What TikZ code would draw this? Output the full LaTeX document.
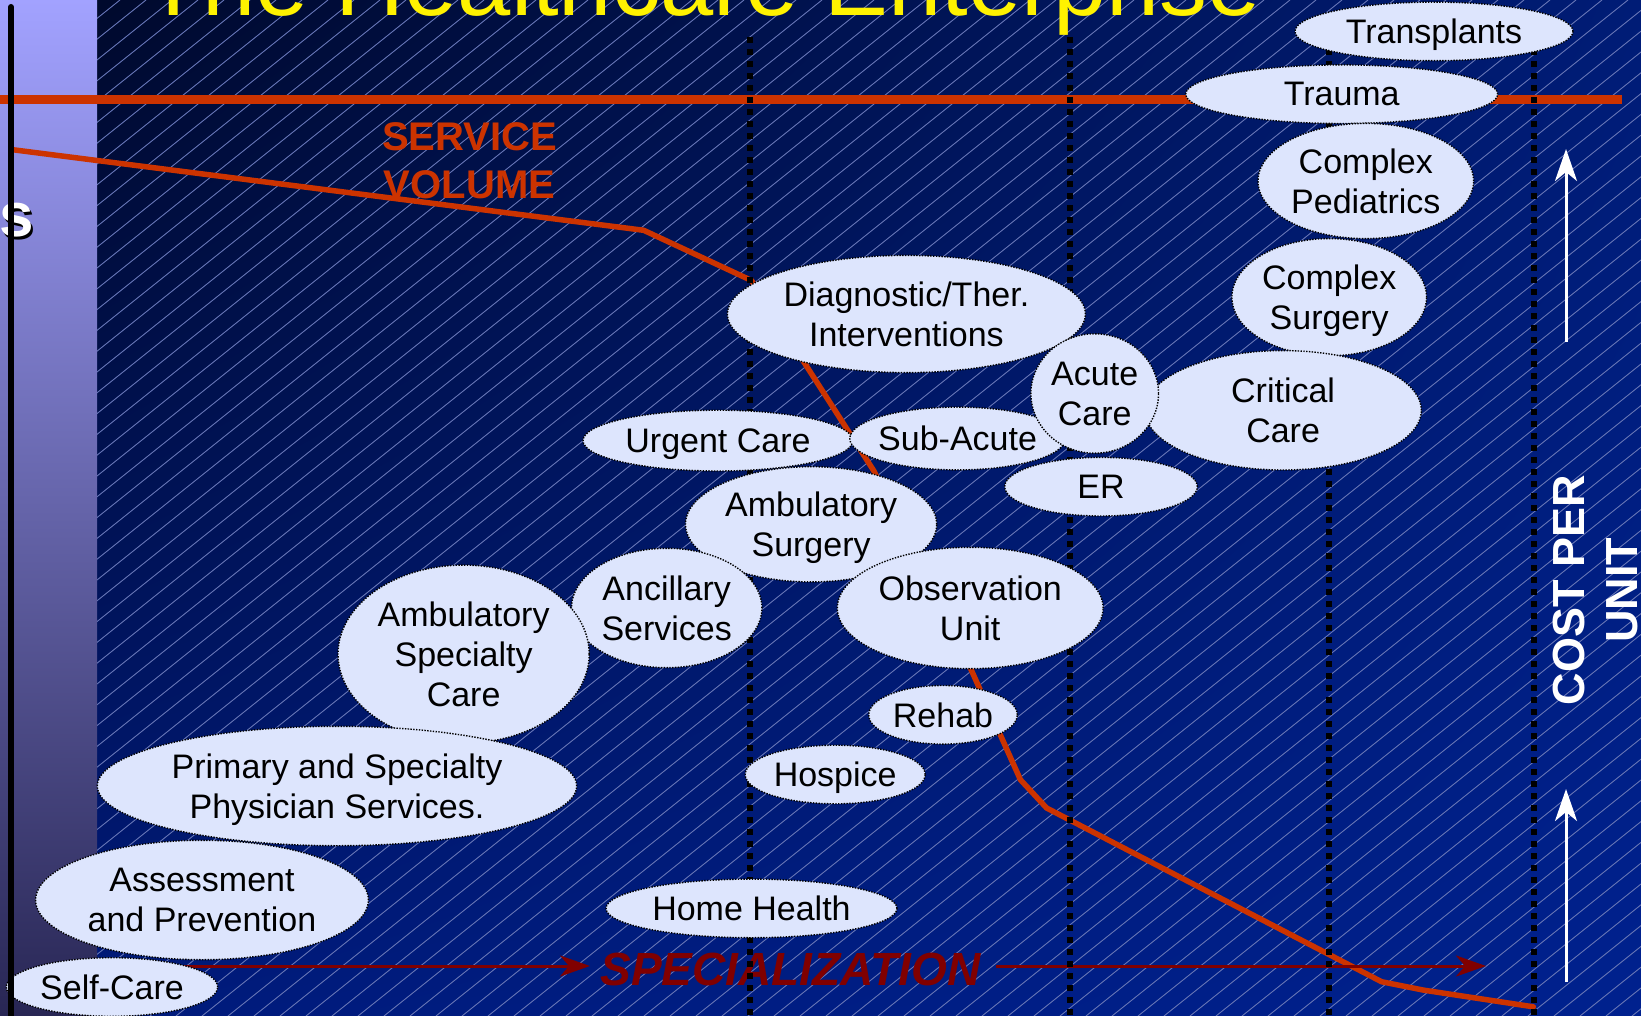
\documentclass[tikz,border=0pt]{standalone}
\usepackage{fontspec}
\setmainfont{Liberation Sans}
\usetikzlibrary{shapes.geometric,arrows.meta,shadings}
\definecolor{bubfill}{RGB}{221,229,253}
\definecolor{redline}{RGB}{204,51,0}
\definecolor{darkred}{RGB}{128,0,0}
\definecolor{hatchcol}{RGB}{100,115,180}
\definecolor{bgUL}{RGB}{0,8,40}
\definecolor{bgUR}{RGB}{0,28,118}
\definecolor{bgLL}{RGB}{0,26,122}
\definecolor{bgLR}{RGB}{0,33,142}
\definecolor{panelTop}{RGB}{162,162,255}
\definecolor{panelMid}{RGB}{132,128,222}
\definecolor{panelBot}{RGB}{40,38,84}
\tikzset{
  bub/.style={ellipse, fill=bubfill, draw=black, line width=1.4pt,
    dash pattern=on 1.4pt off 1.4pt, inner sep=-12pt, outer sep=0pt,
    align=center, text=black, text depth=0pt, font=\fontsize{34}{40}\selectfont},
  dotline/.style={draw=black, line width=6pt, dash pattern=on 6pt off 6pt},
  hatchline/.style={draw=hatchcol, line width=0.9pt},
  specarrow/.style={draw=darkred, line width=3pt, -{Stealth[length=30pt,width=21pt,inset=9pt]}},
  costarrow/.style={draw=white, line width=3pt, -{Stealth[length=32pt,width=22pt,inset=9pt]}}
}
\begin{document}
\begin{tikzpicture}[x=1pt,y=-1pt]
\useasboundingbox (0,0) rectangle (1641,1016);
% background
\shade[upper left=bgUL, upper right=bgUR, lower left=bgLL, lower right=bgLR] (0,0) rectangle (1641,1016);
\begin{scope}
\clip (97,0) rectangle (1641,1016);
\foreach \i in {-1280,-1254,...,1660} \draw[hatchline] (\i,1016) -- ++(1270,-1016);
\end{scope}
% left panel
\shade[top color=panelTop, middle color=panelMid, bottom color=panelBot] (0,0) rectangle (97,1016);
\node[anchor=base east, inner sep=0pt, text=black, font=\fontsize{62}{70}\selectfont\bfseries] (sshadow) at (36.5,239.5) {os};
\node[anchor=base east, inner sep=0pt, text=white, font=\fontsize{62}{70}\selectfont\bfseries] (stext) at (34,237) {os};
% title
\node[anchor=base west, inner sep=0pt, text=yellow, font=\fontsize{95.7}{100}\selectfont] (title) at (144,15.5) {The Healthcare Enterprise};
% red lines
\coordinate (hl) at (0,99.7);
\coordinate (hr) at (1622,99.7);
\draw[redline, line width=9.3pt] (hl) -- (hr);
\coordinate (c0) at (11,149.5);
\coordinate (c1) at (643.7,230.3);
\coordinate (c2) at (751.5,280.5);
\coordinate (c3) at (873.9,471);
\coordinate (c4) at (971.2,669.8);
\coordinate (c5) at (1020.4,779.7);
\coordinate (c6) at (1046.6,808);
\coordinate (c7) at (1381.5,981.7);
\coordinate (c8) at (1423.4,990.1);
\coordinate (c9) at (1533.3,1006.8);
\draw[redline, line width=5.5pt, line join=round, line cap=round] (c0) -- (c1) -- (c2) -- (c3) -- (c4) -- (c5) -- (c6) -- (c7) -- (c8) -- (c9);
\node[inner sep=0pt, text=redline, align=center, font=\fontsize{40}{48.3}\selectfont\bfseries] (sv) at (469.5,160.4) {SERVICE\\VOLUME};
% specialization
\node[anchor=base, inner sep=0pt, text=darkred, font=\fontsize{46.5}{50}\selectfont\bfseries\itshape] (spec) at (790.5,985) {\scalebox{0.99}[1]{SPECIALIZATION}};
\coordinate (a1s) at (150,966);
\coordinate (a1e) at (590,966);
\coordinate (a2s) at (996,966);
\coordinate (a2e) at (1486,966);
\draw[specarrow] (a1s) -- (a1e);
\draw[specarrow] (a2s) -- (a2e);
% cost per unit
\coordinate (w1s) at (1566,342);
\coordinate (w1e) at (1566,149);
\coordinate (w2s) at (1566,982);
\coordinate (w2e) at (1566,789);
\draw[costarrow] (w1s) -- (w1e);
\draw[costarrow] (w2s) -- (w2e);
\node[rotate=90, inner sep=0pt, text=white, align=center, font=\fontsize{45}{53}\selectfont\bfseries] (cost) at (1595.5,590) {COST PER\\UNIT};
% dotted lines
\coordinate (d1t) at (750.4,37); \coordinate (d1b) at (750.4,1016);
\coordinate (d2t) at (1069.6,37); \coordinate (d2b) at (1069.6,1016);
\coordinate (d3t) at (1329.2,37); \coordinate (d3b) at (1329.2,1016);
\coordinate (d4t) at (1534.3,37); \coordinate (d4b) at (1534.3,1016);
\draw[dotline] (d1t) -- (d1b);
\draw[dotline] (d2t) -- (d2b);
\draw[dotline] (d3t) -- (d3b);
\draw[dotline] (d4t) -- (d4b);
% bubbles
\node[bub, minimum width=278pt, minimum height=58.6pt] (tr) at (1434,31.4) {Transplants};
\node[bub, minimum width=312pt, minimum height=58.6pt] (trauma) at (1341.7,94.2) {Trauma};
\node[bub, minimum width=215.6pt, minimum height=115.2pt] (cped) at (1365.8,181) {Complex\\Pediatrics};
\node[bub, minimum width=194.6pt, minimum height=117.2pt] (csurg) at (1329.2,297.2) {Complex\\Surgery};
\node[bub, minimum width=358pt, minimum height=117.2pt] (diag) at (906.4,314) {Diagnostic/Ther.\\Interventions};
\node[bub, minimum width=270pt, minimum height=60.8pt] (urgent) at (718,440.6) {Urgent Care};
\node[bub, minimum width=215.6pt, minimum height=62.8pt] (sub) at (957.6,438.5) {Sub-Acute};
\node[bub, minimum width=276.4pt, minimum height=119.4pt] (crit) at (1283.1,410.3) {Critical\\Care};
\node[bub, minimum width=127.6pt, minimum height=119.4pt] (acute) at (1094.7,393.5) {Acute\\Care};
\node[bub, minimum width=192.6pt, minimum height=58.6pt] (er) at (1101,486.7) {ER};
\node[bub, minimum width=251.2pt, minimum height=115.2pt] (ambs) at (811.1,524.3) {Ambulatory\\Surgery};
\node[bub, minimum width=190.4pt, minimum height=119.4pt] (anc) at (666.7,608) {Ancillary\\Services};
\node[bub, minimum width=265.8pt, minimum height=121.4pt] (obs) at (970.2,608) {Observation\\Unit};
\node[bub, minimum width=251.2pt, minimum height=178pt] (asc) at (463.6,654.1) {Ambulatory\\Specialty\\Care};
\node[bub, minimum width=479.4pt, minimum height=119.4pt] (prim) at (337,786) {Primary and Specialty\\Physician Services.};
\node[bub, minimum width=332.8pt, minimum height=119.4pt] (assess) at (202,900) {Assessment\\and Prevention};
\node[bub, minimum width=211.4pt, minimum height=58.6pt] (self) at (112,987) {Self-Care};
\node[bub, minimum width=148.6pt, minimum height=58.6pt] (rehab) at (943,714.8) {Rehab};
\node[bub, minimum width=180pt, minimum height=58.6pt] (hosp) at (835.2,774.5) {Hospice};
\node[bub, minimum width=291pt, minimum height=58.6pt] (home) at (751.5,908.4) {Home Health};
% black vertical line
\coordinate (bt) at (11,7);
\coordinate (bb) at (11,1020);
\draw[black, line width=6pt, line cap=round] (bt) -- (bb);
\end{tikzpicture}
\end{document}
